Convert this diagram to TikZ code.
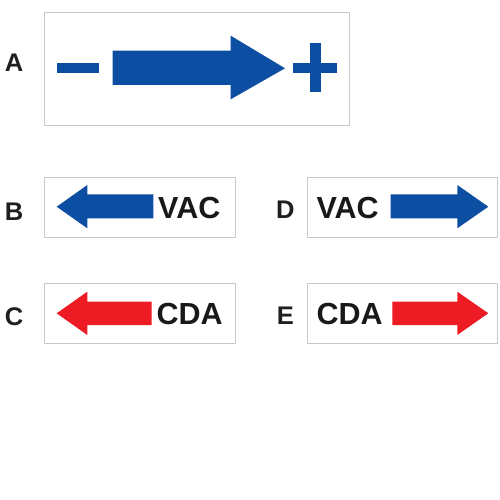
\documentclass[tikz,border=0pt]{standalone}
\usepackage{fontspec}
\setmainfont{Liberation Sans}
\definecolor{pipeblue}{HTML}{0C4EA2}
\definecolor{pipered}{HTML}{ED1C24}
\definecolor{framegray}{HTML}{C8C8C8}
\tikzset{
  panel/.style={draw=framegray, line width=0.9pt},
  bluefill/.style={fill=pipeblue},
  redfill/.style={fill=pipered},
  tag/.style={anchor=base west, inner sep=0pt, font=\fontsize{30.5}{30.5}\selectfont\bfseries, text=black!90},
  letter/.style={anchor=base, inner sep=0pt, font=\fontsize{25.5}{25.5}\selectfont\bfseries, text=black!88}
}
\begin{document}
\begin{tikzpicture}[x=1pt, y=-1pt]
    \useasboundingbox (0,0) rectangle (500,500);

    % Frames
    \draw[panel] (44.5,12) rectangle (349,125);
    \draw[panel] (44.5,177) rectangle (235.5,237.5);
    \draw[panel] (44.5,283.5) rectangle (235.5,343.5);
    \draw[panel] (307.5,177) rectangle (497.5,237.5);
    \draw[panel] (307.5,283.5) rectangle (497.5,343.5);

    % Letters
    \foreach \x/\y/\name in {14/71.7/A, 14/220/B, 14/325/C, 285.3/218.3/D, 285.3/324.5/E} {
        \node[letter] (lbl\name) at (\x,\y) {\name};
    }

    % A: polarity
    \fill[bluefill] (57.3,63.3) rectangle (99.3,72.7);
    \fill[bluefill] (112.7,50.7) -- (230.7,50.7) -- (230.7,35.7) -- (285,68.3)
        -- (230.7,99.3) -- (230.7,85) -- (112.7,85) -- cycle;
    \fill[bluefill] (293.3,63.3) rectangle (337.3,72.7);
    \fill[bluefill] (310,43.3) rectangle (320.7,92.3);

    % B: vacuum, left
    \fill[bluefill] (56.7,206.7) -- (87.3,185) -- (87.3,194.3) -- (153.3,194.3)
        -- (153.3,218.3) -- (87.3,218.3) -- (87.3,228.3) -- cycle;
    \node[tag] (vacB) at (158,218.3) {VAC};

    % C: dry air, left
    \fill[redfill] (56.7,313.3) -- (87.3,291.7) -- (87.3,301.7) -- (151.7,301.7)
        -- (151.7,325) -- (87.3,325) -- (87.3,335) -- cycle;
    \node[tag] (cdaC) at (156.3,324.5) {CDA};

    % D: vacuum, right
    \node[tag] (vacD) at (316.3,218.3) {VAC};
    \fill[bluefill] (390.7,194.3) -- (457.3,194.3) -- (457.3,185) -- (488.3,206.7)
        -- (457.3,228.3) -- (457.3,218.3) -- (390.7,218.3) -- cycle;

    % E: dry air, right
    \node[tag] (cdaE) at (316.3,324.5) {CDA};
    \fill[redfill] (392.3,301.7) -- (457.3,301.7) -- (457.3,291.7) -- (488.3,313.3)
        -- (457.3,335) -- (457.3,325) -- (392.3,325) -- cycle;
\end{tikzpicture}
\end{document}
